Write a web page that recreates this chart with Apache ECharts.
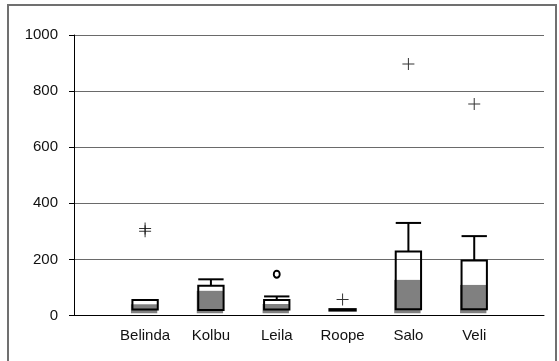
<!DOCTYPE html>
<html><head><meta charset="utf-8">
<script src="https://cdn.jsdelivr.net/npm/echarts@6/dist/echarts.min.js"></script>
<style>html,body{margin:0;padding:0;background:#fff}#c{width:559px;height:361px}</style>
</head><body><div id="c"></div>
<script>
const categories = ['Belinda','Kolbu','Leila','Roope','Salo','Veli'];
const grayLow  = [8, 8, 8, 21, 8, 8];
const q1       = [21, 20, 21, 21, 22, 22];
const median   = [40, 88, 41, 21, 127, 109];
const q3       = [55, 106, 55, 21, 228, 196];
const maxVal   = [55, 129, 68, 21, 330, 283];
const plusOutliers = [[0, 310], [0, 300], [3, 57], [4, 897], [5, 754]];
const circleOutliers = [[2, 147]];
const yTicks = [0, 200, 400, 600, 800, 1000];

const boxData = categories.map((c, i) => [i, grayLow[i], q1[i], median[i], q3[i], maxVal[i]]);

const chart = echarts.init(document.getElementById('c'), null, {renderer: 'canvas'});
chart.setOption({
  animation: false,
  backgroundColor: '#fff',
  graphic: [{
    type: 'rect', z: -10, silent: true,
    shape: {x: 8, y: 5, width: 548, height: 380},
    style: {fill: 'none', stroke: '#707070', lineWidth: 2}
  }],
  grid: {left: 74, right: 15, top: 35, bottom: 45.5},
  xAxis: {
    type: 'value', min: -1.08, max: 6.06,
    axisLine: {show: true, onZero: false, lineStyle: {color: '#000', width: 1}},
    axisTick: {show: false},
    splitLine: {show: false},
    axisLabel: {
      customValues: categories.map((c, i) => i),
      formatter: v => categories[Math.round(v)],
      fontFamily: 'Liberation Sans, Arial, sans-serif', fontSize: 15, color: '#111', margin: 13
    }
  },
  yAxis: {
    type: 'value', min: 0, max: 1000, interval: 200,
    axisLine: {show: true, onZero: false, lineStyle: {color: '#000', width: 1}},
    axisTick: {show: true, inside: false, length: 5, lineStyle: {color: '#000'}},
    splitLine: {show: true, lineStyle: {color: '#6a6a6a', width: 1}},
    axisLabel: {
      fontFamily: 'Liberation Sans, Arial, sans-serif', fontSize: 15, color: '#111', margin: 16,
      formatter: v => yTicks.includes(v) ? String(v) : ''
    }
  },
  series: [
    {
      type: 'custom',
      data: boxData,
      encode: {x: 0, y: [1, 2, 3, 4, 5]},
      renderItem: function (params, api) {
        const i = api.value(0);
        const c = api.coord([i, 0])[0];
        const yLow = api.coord([i, api.value(1)])[1];
        const yQ1 = api.coord([i, api.value(2)])[1];
        const yMed = api.coord([i, api.value(3)])[1];
        const yQ3 = api.coord([i, api.value(4)])[1];
        const yMax = api.coord([i, api.value(5)])[1];
        const w = api.size([1, 0])[0] * 0.385;
        const children = [];
        if (api.value(3) > api.value(1)) {
          children.push({type: 'rect', shape: {x: c - w / 2 - 1.5, y: yMed, width: w + 1, height: yLow - yMed},
            style: {fill: '#808080'}});
        }
        if (api.value(5) > api.value(4)) {
          children.push({type: 'line', shape: {x1: c, y1: yQ3, x2: c, y2: yMax}, style: {stroke: '#000', lineWidth: 2}});
          children.push({type: 'line', shape: {x1: c - w / 2, y1: yMax, x2: c + w / 2, y2: yMax}, style: {stroke: '#000', lineWidth: 2}});
        }
        children.push({type: 'rect', shape: {x: c - w / 2, y: yQ3, width: w, height: Math.max(yQ1 - yQ3, 0.5)},
          style: {fill: 'none', stroke: '#000', lineWidth: api.value(4) > api.value(2) ? 2 : 3}});
        return {type: 'group', children: children};
      },
      z: 3
    },
    {
      type: 'scatter',
      data: plusOutliers,
      symbol: 'path://M0,5.5H12V6.5H0Z M5.5,0H6.5V12H5.5Z',
      symbolSize: 12,
      itemStyle: {color: '#000'},
      z: 4
    },
    {
      type: 'scatter',
      data: circleOutliers,
      symbol: 'circle',
      symbolSize: [6, 7],
      itemStyle: {color: '#ffffff', borderColor: '#000000', borderWidth: 2, opacity: 1},
      z: 5
    }
  ]
});
</script>
</body></html>
